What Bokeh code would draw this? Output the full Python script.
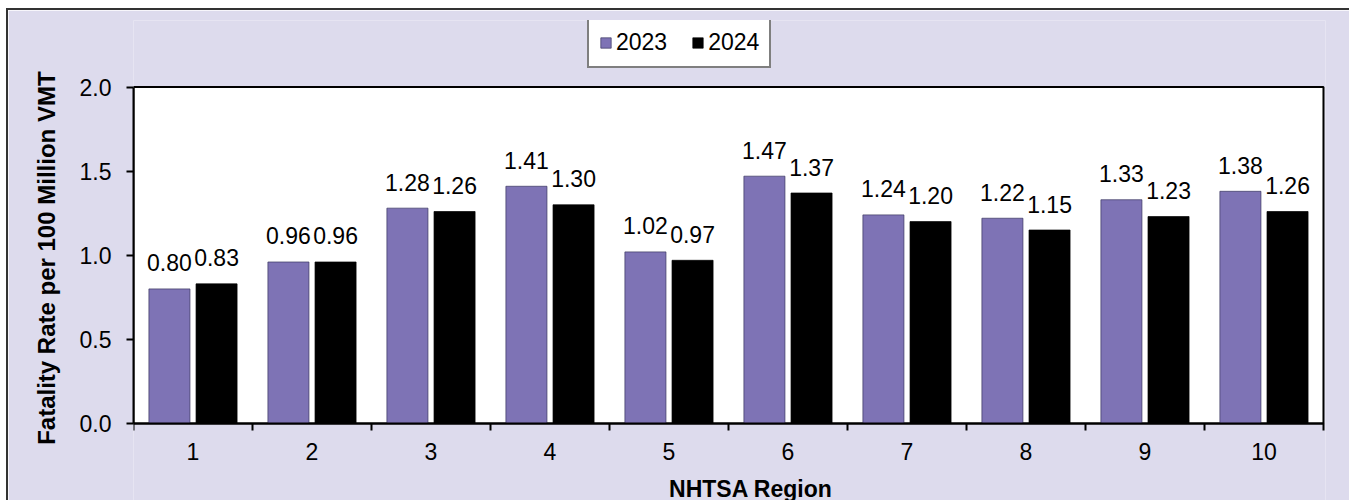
from bokeh.plotting import figure
from bokeh.models import (ColumnDataSource, Range1d, FixedTicker, PrintfTickFormatter,
                          Legend, LegendItem)
from bokeh.core.properties import value
from bokeh.transform import dodge
from bokeh.embed import file_html
from bokeh.resources import INLINE

# ---- data ----
regions = ["1", "2", "3", "4", "5", "6", "7", "8", "9", "10"]
rate_2023 = [0.80, 0.96, 1.28, 1.41, 1.02, 1.47, 1.24, 1.22, 1.33, 1.38]
rate_2024 = [0.83, 0.96, 1.26, 1.30, 0.97, 1.37, 1.20, 1.15, 1.23, 1.26]
y_ticks = [0.0, 0.5, 1.0, 1.5, 2.0]
y_max = 2.0

FONT = "Liberation Sans"
BG = "#DDDBED"
PURPLE = "#7E73B5"

n = len(regions)
xpos = list(range(1, n + 1))
src = ColumnDataSource(dict(
    x=xpos,
    y23=rate_2023,
    y24=rate_2024,
    t23=["%.2f" % v for v in rate_2023],
    t24=["%.2f" % v for v in rate_2024],
))

# frame extends above and below the plot area (legend above, x axis drawn at y=0)
p = figure(width=1343, height=492, output_backend="svg", toolbar_location=None,
           x_range=Range1d(0.5, n + 0.517), y_range=Range1d(-0.4695, 2.3953),
           min_border_left=125, min_border_right=26, min_border_top=10,
           min_border_bottom=0)
p.styles = {"border-top": "2px solid #333333", "border-left": "2px solid #333333",
            "margin-left": "6px", "margin-top": "8px"}
p.background_fill_color = BG
p.border_fill_color = BG
p.outline_line_color = None
p.xgrid.visible = False
p.ygrid.visible = False

# white plot area with black border
p.quad(left=[0.5], right=[n + 0.5], bottom=[0], top=[y_max],
       fill_color="white", line_color="black", line_width=2)

off = 0.198
w = 0.345
r1 = p.vbar(x=dodge("x", -off, range=p.x_range), top="y23", width=w, source=src,
            fill_color=PURPLE, line_color="#3a3560", line_width=0.7)
r2 = p.vbar(x=dodge("x", off, range=p.x_range), top="y24", width=w, source=src,
            fill_color="black", line_color="black", line_width=0.7)

for col, txt, o in (("y23", "t23", -off), ("y24", "t24", off)):
    p.text(x=dodge("x", o, range=p.x_range), y=col, text=txt, source=src,
           text_font=value(FONT), text_font_size="23px", text_color="black",
           text_align="center", text_baseline="alphabetic", y_offset=-26)

# axes
xa = p.xaxis[0]
xa.fixed_location = 0
xa.bounds = (0.5, n + 0.5)
xa.ticker = FixedTicker(ticks=xpos, minor_ticks=[i + 0.5 for i in range(0, n + 1)])
xa.major_label_overrides = {i: r for i, r in zip(xpos, regions)}
xa.major_tick_line_alpha = 0
xa.major_tick_out = 7
xa.major_tick_in = 0
xa.minor_tick_out = 7
xa.minor_tick_in = 0
xa.minor_tick_line_color = "black"
xa.minor_tick_line_width = 2
xa.axis_line_color = "black"
xa.axis_line_width = 2
xa.major_label_standoff = 12
xa.major_label_text_font = FONT
xa.major_label_text_font_size = "23px"
xa.major_label_text_color = "black"
xa.axis_label = "\u00a0" * 7 + "NHTSA Region"
xa.axis_label_text_font = FONT
xa.axis_label_text_font_size = "23px"
xa.axis_label_text_font_style = "bold"
xa.axis_label_text_color = "black"
xa.axis_label_standoff = 13

ya = p.yaxis[0]
ya.bounds = (0, y_max)
ya.ticker = FixedTicker(ticks=y_ticks, minor_ticks=[])
ya.formatter = PrintfTickFormatter(format="%.1f")
ya.major_tick_out = 7
ya.major_tick_in = 0
ya.major_tick_line_color = "black"
ya.major_tick_line_width = 2
ya.minor_tick_line_alpha = 0
ya.axis_line_color = "black"
ya.axis_line_width = 2
ya.major_label_standoff = 15
ya.major_label_text_font = FONT
ya.major_label_text_font_size = "23px"
ya.major_label_text_color = "black"
ya.axis_label = "\u00a0" + "Fatality Rate per 100 Million VMT"
ya.axis_label_text_font = FONT
ya.axis_label_text_font_size = "24px"
ya.axis_label_text_font_style = "bold"
ya.axis_label_text_color = "black"
ya.axis_label_standoff = 17

legend = Legend(items=[LegendItem(label="2023", renderers=[r1]),
                       LegendItem(label="2024", renderers=[r2])],
                orientation="horizontal", location=(454, 434),
                label_text_font=FONT, label_text_font_size="23px",
                label_text_color="black", glyph_width=13, glyph_height=13,
                label_standoff=4, spacing=24, padding=10, margin=0,
                border_line_color="black", border_line_width=2,
                background_fill_color="white", background_fill_alpha=1.0)
p.add_layout(legend, "center")

open("out.html", "w").write(file_html(p, INLINE))
